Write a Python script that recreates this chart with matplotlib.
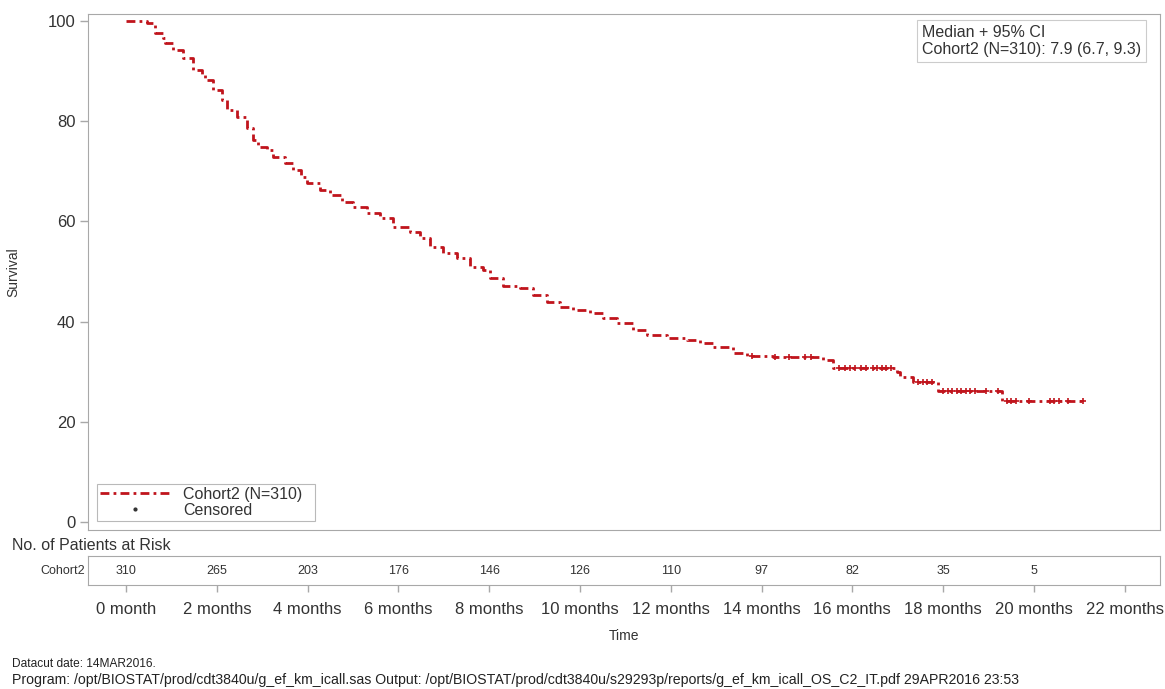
import numpy as np
import matplotlib
matplotlib.use("Agg")
import matplotlib.pyplot as plt
from matplotlib.lines import Line2D

# ---- data ----
step_times = [0.0, 0.46, 0.64, 0.81, 0.86, 1.04, 1.26, 1.48, 1.67, 1.74, 1.92, 2.11, 2.22, 2.44,
              2.67, 2.80, 2.91, 3.11, 3.24, 3.50, 3.68, 3.85, 3.99, 4.27, 4.49, 4.76, 5.00, 5.31,
              5.59, 5.88, 6.26, 6.48, 6.70, 6.98, 7.29, 7.58, 7.86, 8.02, 8.30, 8.68, 8.96, 9.27,
              9.56, 9.85, 10.22, 10.51, 10.81, 11.17, 11.48, 11.92, 12.36, 12.64, 12.93, 13.37,
              13.68, 14.25, 15.35, 15.57, 16.98, 17.05, 17.33, 17.89, 19.30]
step_surv = [100.0, 99.6, 97.6, 96.6, 95.6, 94.2, 92.6, 90.2, 89.2, 88.2, 86.2, 84.2, 82.2, 80.8,
             78.6, 76.2, 74.8, 74.2, 72.8, 71.6, 70.2, 68.8, 67.6, 66.2, 65.2, 63.8, 62.8, 61.6,
             60.7, 58.9, 57.9, 56.7, 54.9, 53.7, 52.7, 50.9, 50.3, 48.7, 47.1, 46.7, 45.3, 43.9,
             42.9, 42.3, 41.7, 40.7, 39.7, 38.3, 37.3, 36.7, 36.3, 35.7, 34.9, 33.7,
             33.1, 32.9, 32.3, 30.7, 29.9, 29.0, 28.0, 26.1, 24.2]
end_time = 21.08
censor_times = [13.8, 14.3, 14.6, 14.95, 15.1, 15.7, 15.85, 15.95, 16.05, 16.2, 16.3, 16.45, 16.55,
                16.65, 16.75, 16.85, 17.45, 17.55, 17.65, 17.75, 18.0, 18.1, 18.2, 18.3, 18.4, 18.5,
                18.6, 18.7, 18.95, 19.2, 19.4, 19.5, 19.6, 19.9, 20.35, 20.45, 20.55, 20.75, 21.08]
risk_times = [0, 2, 4, 6, 8, 10, 12, 14, 16, 18, 20]
risk_counts = [310, 265, 203, 176, 146, 126, 110, 97, 82, 35, 5]
xtick_vals = [0, 2, 4, 6, 8, 10, 12, 14, 16, 18, 20, 22]
xtick_labels = ["0 month"] + [f"{v} months" for v in xtick_vals[1:]]
ytick_vals = [0, 20, 40, 60, 80, 100]

W, H = 1165, 689
fig = plt.figure(figsize=(W / 100, H / 100), dpi=100)
plt.rcParams['font.family'] = ['Liberation Sans', 'DejaVu Sans']

def rect(l, t, r, b):
    return [l / W, 1 - b / H, (r - l) / W, (b - t) / H]

red = '#c0141c'
grey = '#a8a8a8'
tcol = '#333333'
dash = [3.2, 1.5, 1.0, 1.5]

ax = fig.add_axes(rect(88, 14, 1160, 530))
xlim = (-0.84, 22.78)
ax.set_xlim(*xlim)
ax.set_ylim(-1.6, 101.4)

# KM step line
xs = list(step_times) + [end_time]
ys = list(step_surv) + [step_surv[-1]]
line, = ax.step(xs, ys, where='post', color=red, lw=2.0)
line.set_dashes(dash)

# censor marks
st = np.array(step_times)
sv = np.array(step_surv)
cs = [sv[np.searchsorted(st, c, side='right') - 1] for c in censor_times]
ax.scatter(censor_times, cs, marker='+', s=22, color=red, linewidths=1.2, zorder=3)

for s in ax.spines.values():
    s.set_color(grey)
ax.set_yticks(ytick_vals)
ax.set_yticklabels([str(v) for v in ytick_vals])
ax.tick_params(axis='y', colors=grey, labelcolor=tcol, labelsize=12, length=6, width=1, pad=3)
ax.set_xticks([])
ax.set_ylabel('Survival', fontsize=10, color=tcol)
ax.yaxis.set_label_coords((20 - 88) / 1072, 0.5)

# legend
h1 = Line2D([], [], color=red, lw=2.0, dashes=dash)
h2 = Line2D([], [], color='#333333', marker='.', ms=4, ls='none')
leg = ax.legend([h1, h2], ['Cohort2 (N=310)  ', 'Censored'], loc='lower left',
                bbox_to_anchor=((97 - 88) / 1072, (530 - 521) / 516), fontsize=11.5,
                frameon=True, fancybox=False, handlelength=4.3, borderpad=0.2,
                labelspacing=0.05, handletextpad=0.9, borderaxespad=0)
leg.get_frame().set_edgecolor(grey)
leg.get_frame().set_linewidth(0.8)
for t in leg.get_texts():
    t.set_color(tcol)

# median box
ax.text((922 - 88) / 1072, (530 - 25) / 516, 'Median + 95% CI\nCohort2 (N=310): 7.9 (6.7, 9.3)',
        transform=ax.transAxes, ha='left', va='top', fontsize=11.5, color=tcol, linespacing=1.15,
        bbox=dict(boxstyle='square,pad=0.3', fc='white', ec='#cccccc', lw=0.8))

# at-risk axes
ar = fig.add_axes(rect(88, 556, 1160, 585))
ar.set_xlim(*xlim)
ar.set_ylim(0, 1)
for s in ar.spines.values():
    s.set_color(grey)
ar.set_yticks([])
for t, n in zip(risk_times, risk_counts):
    ar.text(t, 0.5, str(n), ha='center', va='center', fontsize=9, color=tcol)
ar.set_xticks(xtick_vals)
ar.set_xticklabels(xtick_labels)
ar.tick_params(axis='x', colors=grey, labelcolor=tcol, labelsize=12, length=5, width=1, pad=7)
ar.set_xlabel('Time', fontsize=10, color=tcol, labelpad=9)

fig.text(85 / W, 1 - 571 / H, 'Cohort2', ha='right', va='center', fontsize=9, color=tcol)
fig.text(12 / W, 1 - 545 / H, 'No. of Patients at Risk', ha='left', va='center', fontsize=11.5, color=tcol)
fig.text(12 / W, 1 - 664 / H, 'Datacut date: 14MAR2016.', ha='left', va='center', fontsize=8.6, color='#222222')
fig.text(12 / W, 1 - 680 / H,
         'Program: /opt/BIOSTAT/prod/cdt3840u/g_ef_km_icall.sas Output: /opt/BIOSTAT/prod/cdt3840u/s29293p/reports/g_ef_km_icall_OS_C2_IT.pdf 29APR2016 23:53',
         ha='left', va='center', fontsize=10.2, color='#222222')

fig.savefig('out.png', dpi=100)
